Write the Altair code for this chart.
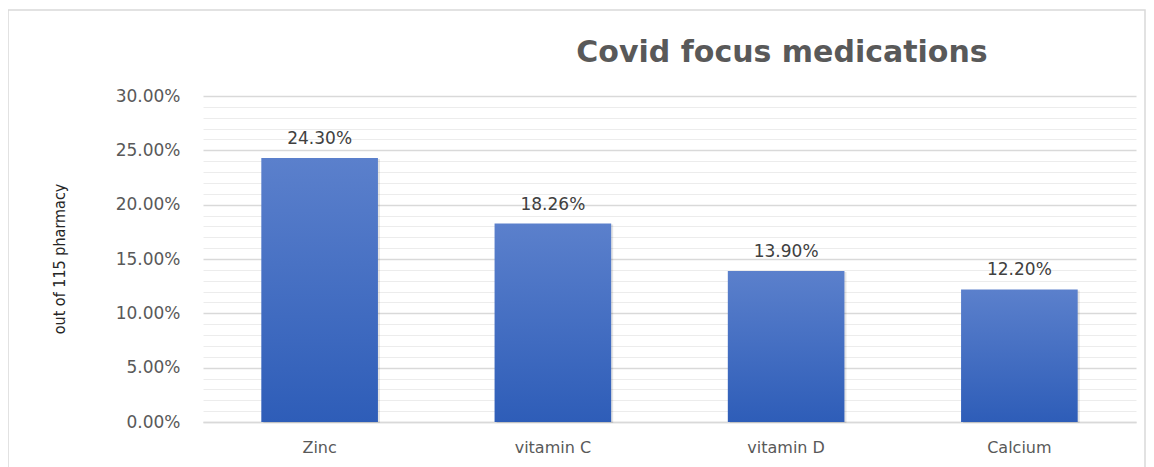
import altair as alt
import pandas as pd

categories = ["Zinc", "vitamin C", "vitamin D", "Calcium"]
values = [0.2430, 0.1826, 0.1390, 0.1220]
major_ticks = [0.0, 0.05, 0.10, 0.15, 0.20, 0.25, 0.30]
minor_ticks = [i / 100 for i in range(0, 31) if i % 5 != 0]
title_text = "Covid focus medications"
y_title_text = "out of 115 pharmacy"

df = pd.DataFrame({"med": categories, "pct": values})

W, H = 933, 326
FONT = "DejaVu Sans"
GRAY = "#595959"

xenc = alt.X("med:N", sort=categories,
             scale=alt.Scale(paddingInner=0.5, paddingOuter=0.25),
             axis=alt.Axis(title=None, labelAngle=0, labelFontSize=16, labelColor=GRAY,
                           labelFont=FONT, labelPadding=17, ticks=False,
                           domainColor="#d9d9d9", domainWidth=1.5, grid=False))
yscale = alt.Scale(domain=[0, 0.30], nice=False)

minor = alt.Chart(df).mark_bar(opacity=0).encode(
    x=xenc,
    y=alt.Y("pct:Q", scale=yscale,
            axis=alt.Axis(orient="left", values=minor_ticks, labels=False, ticks=False,
                          domain=False, grid=True, gridColor="#ececec", gridWidth=1, title=None)),
)

shadow = alt.Chart(df).mark_bar(color="#000000", opacity=0.10, xOffset=2, yOffset=1).encode(
    x=alt.X("med:N", sort=categories), y=alt.Y("pct:Q", scale=yscale, axis=None)
)

bars = alt.Chart(df).mark_bar(
    color=alt.Gradient(gradient="linear", x1=0, x2=0, y1=0, y2=1,
                       stops=[alt.GradientStop(color="#5b80cc", offset=0),
                              alt.GradientStop(color="#2e5db8", offset=1)])
).encode(
    x=alt.X("med:N", sort=categories),
    y=alt.Y("pct:Q", scale=yscale,
            axis=alt.Axis(orient="left", values=major_ticks, format=".2%", labelFontSize=17,
                          labelColor=GRAY, labelFont=FONT, labelPadding=23, ticks=False,
                          domain=False, grid=True, gridColor="#d9d9d9", gridWidth=1.5,
                          title=None)),
)

labels = alt.Chart(df).mark_text(baseline="bottom", dy=-10, fontSize=17, font=FONT,
                                 color="#404040").encode(
    x=alt.X("med:N", sort=categories),
    y=alt.Y("pct:Q", scale=yscale, axis=None),
    text=alt.Text("pct:Q", format=".2%"),
)

one = alt.Data(values=[{"a": 1}])
title = alt.Chart(one).mark_text(fontSize=30, fontWeight="bold", font=FONT, color=GRAY,
                                 baseline="alphabetic", align="center").encode(
    x=alt.value(579), y=alt.value(-34), text=alt.value(title_text))

ytitle = alt.Chart(one).mark_text(fontSize=16, angle=270,
                                  font="DejaVu Sans Condensed, Liberation Sans Narrow, sans-serif",
                                  color="#262626", baseline="middle", align="center").encode(
    x=alt.value(-143), y=alt.value(163), text=alt.value(y_title_text))

frame = alt.Chart(one).mark_rect(fill=None, stroke="#d9d9d9", strokeWidth=1.5).encode(
    x=alt.value(-195), x2=alt.value(942), y=alt.value(-86), y2=alt.value(420))

chart = alt.layer(frame, minor, shadow, bars, labels, title, ytitle).resolve_axis(
    y="independent"
).properties(
    width=W, height=H,
    autosize=alt.AutoSizeParams(type="none"),
    padding={"left": 195, "top": 88, "right": 10, "bottom": 45},
).configure_view(stroke=None)

chart.save("out.html", embed_options={"renderer": "svg", "actions": False})
